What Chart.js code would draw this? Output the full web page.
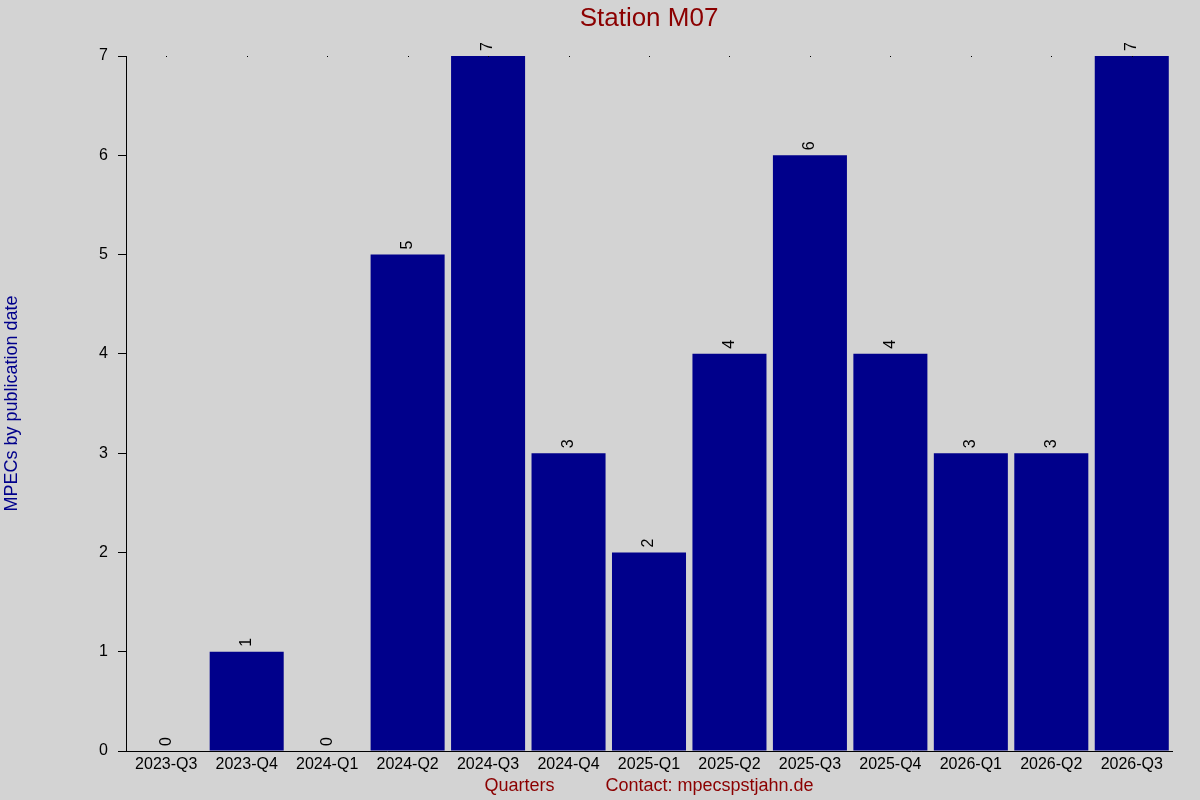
<!DOCTYPE html>
<html>
<head>
<meta charset="utf-8">
<script src="https://cdn.jsdelivr.net/npm/chart.js@4/dist/chart.umd.min.js"></script>
<style>
html,body{margin:0;padding:0;background:#d3d3d3;}
#wrap{width:1200px;height:800px;position:relative;}
</style>
</head>
<body>
<div id="wrap"><canvas id="c" width="1200" height="800"></canvas></div>
<script>
const categories = ["2023-Q3","2023-Q4","2024-Q1","2024-Q2","2024-Q3","2024-Q4","2025-Q1","2025-Q2","2025-Q3","2025-Q4","2026-Q1","2026-Q2","2026-Q3"];
const counts = [0,1,0,5,7,3,2,4,6,4,3,3,7];
const yTicks = [0,1,2,3,4,5,6,7];
const chartTitle = "Station M07";
const yTitle = "MPECs by publication date";
const xTitle = "Quarters";
const contactText = "Contact: mpecspstjahn.de";

const FONT = "'Liberation Sans', Arial, sans-serif";

const bgPlugin = {
  id: 'bg',
  beforeDraw(chart) {
    const ctx = chart.ctx;
    ctx.save();
    ctx.fillStyle = '#d3d3d3';
    ctx.fillRect(0, 0, chart.width, chart.height);
    ctx.restore();
  }
};

const decoPlugin = {
  id: 'deco',
  afterDraw(chart) {
    const ctx = chart.ctx;
    const area = chart.chartArea;
    const xs = chart.scales.x, ys = chart.scales.y;
    const cx = (area.left + area.right) / 2;
    ctx.save();
    // title
    ctx.fillStyle = '#8b0000';
    ctx.font = '26px ' + FONT;
    ctx.textAlign = 'center';
    ctx.textBaseline = 'middle';
    ctx.fillText(chartTitle, cx, 19);
    // x title + contact
    ctx.font = '18px ' + FONT;
    ctx.textAlign = 'left';
    const gap = 51;
    const w1 = ctx.measureText(xTitle).width;
    const w2 = ctx.measureText(contactText).width;
    const start = cx - (w1 + gap + w2) / 2;
    ctx.fillText(xTitle, start, 786);
    ctx.fillText(contactText, start + w1 + gap, 786);
    // y title
    ctx.fillStyle = '#00008b';
    ctx.translate(12, (area.top + area.bottom) / 2);
    ctx.rotate(-Math.PI / 2);
    ctx.textAlign = 'center';
    ctx.fillText(yTitle, 0, 0);
    ctx.restore();

    // top tick dots
    ctx.save();
    ctx.fillStyle = '#000';
    categories.forEach((c, i) => {
      const x = Math.round(xs.getPixelForValue(i));
      ctx.fillRect(x, area.top, 1, 1);
    });
    ctx.restore();

    // value labels
    ctx.save();
    ctx.fillStyle = '#000';
    ctx.font = '16px ' + FONT;
    ctx.textAlign = 'left';
    ctx.textBaseline = 'middle';
    const meta = chart.getDatasetMeta(0);
    meta.data.forEach((bar, i) => {
      ctx.save();
      ctx.translate(bar.x, ys.getPixelForValue(counts[i]) - 5);
      ctx.rotate(-Math.PI / 2);
      ctx.fillText(String(counts[i]), 0, 0);
      ctx.restore();
    });
    ctx.restore();
  }
};

new Chart(document.getElementById('c'), {
  type: 'bar',
  data: {
    labels: categories,
    datasets: [{
      data: counts,
      backgroundColor: '#00008b',
      borderWidth: 0,
      categoryPercentage: 1.0,
      barPercentage: 0.92
    }]
  },
  options: {
    responsive: false,
    devicePixelRatio: 1,
    animation: false,
    layout: { padding: { top: 56, right: 28, left: 0, bottom: 0 } },
    plugins: { legend: { display: false }, title: { display: false }, tooltip: { enabled: false } },
    scales: {
      x: {
        type: 'category',
        grid: { display: false, drawTicks: false },
        border: { display: true, color: '#000', width: 1 },
        ticks: { color: '#000', font: { family: FONT, size: 16 }, padding: 4, maxRotation: 0, autoSkip: false },
        afterFit(scale) { scale.height = 49; }
      },
      y: {
        min: 0,
        max: 7,
        afterBuildTicks(scale) { scale.ticks = yTicks.map(v => ({ value: v })); },
        grid: { display: true, drawOnChartArea: false, drawTicks: true, tickLength: 8, color: '#000' },
        border: { display: true, color: '#000', width: 1 },
        ticks: { color: '#000', font: { family: FONT, size: 16 }, padding: 10 },
        afterFit(scale) { scale.width = 126; }
      }
    }
  },
  plugins: [bgPlugin, decoPlugin]
});
</script>
</body>
</html>
